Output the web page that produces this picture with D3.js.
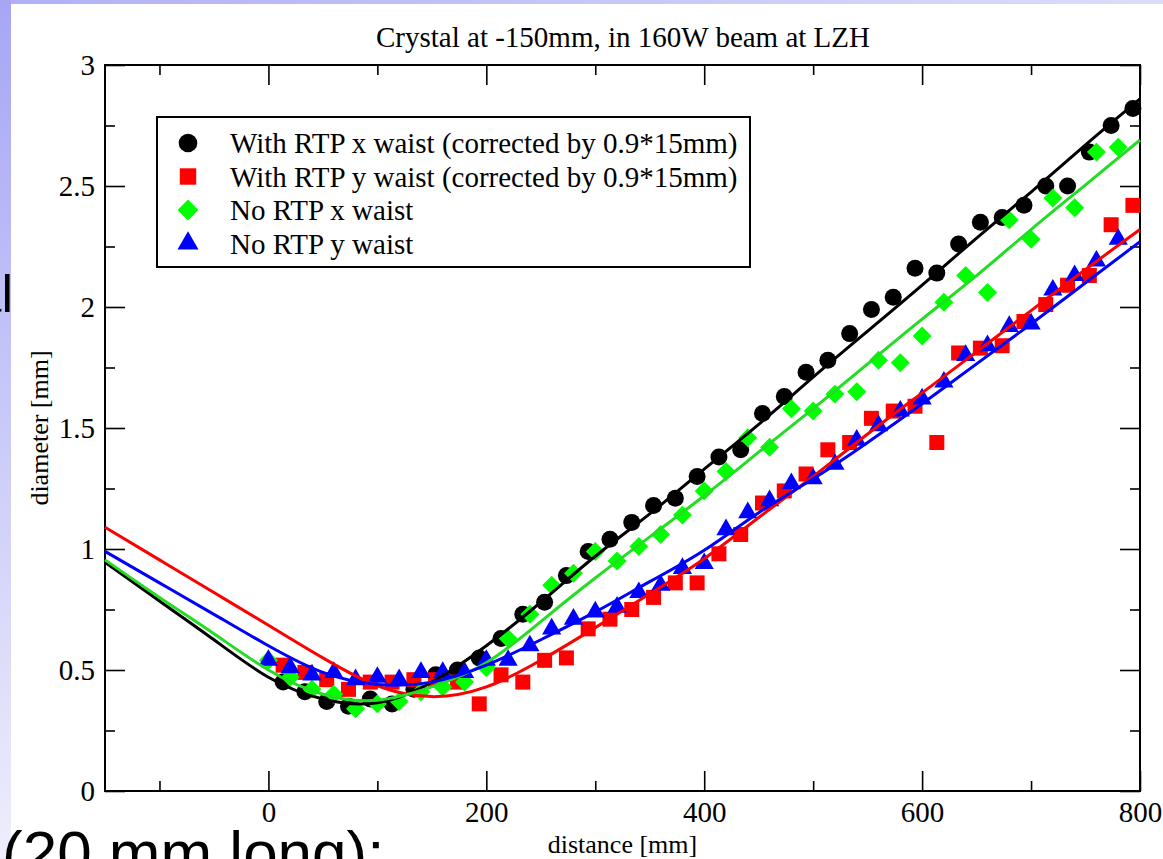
<!DOCTYPE html>
<html>
<head>
<meta charset="utf-8">
<script src="https://cdn.jsdelivr.net/npm/d3@7"></script>
<style>
  body { margin: 0; background: #fff; }
  svg { display: block; }
</style>
</head>
<body>
<svg id="chart"></svg>
<script>
// Data
const distRTP = [13.5, 33.5, 53.5, 73.5, 93.5, 113.5, 133.5, 153.5, 173.5, 193.5,
    213.5, 233.5, 253.5, 273.5, 293.5, 313.5, 333.5, 353.5, 373.5, 393.5,
    413.5, 433.5, 453.5, 473.5, 493.5, 513.5, 533.5, 553.5, 573.5, 593.5,
    613.5, 633.5, 653.5, 673.5, 693.5, 713.5, 733.5, 753.5, 773.5, 793.5];
const distNoRTP = [0, 20, 40, 60, 80, 100, 120, 140, 160, 180,
    200, 220, 240, 260, 280, 300, 320, 340, 360, 380,
    400, 420, 440, 460, 480, 500, 520, 540, 560, 580,
    600, 620, 640, 660, 680, 700, 720, 740, 760, 780];

const rtpX = [0.45, 0.41, 0.37, 0.35, 0.38, 0.36, 0.42, 0.48, 0.50, 0.55,
    0.63, 0.73, 0.78, 0.89, 0.99, 1.04, 1.11, 1.18, 1.21, 1.30,
    1.38, 1.41, 1.56, 1.63, 1.73, 1.78, 1.89, 1.99, 2.04, 2.16,
    2.14, 2.26, 2.35, 2.37, 2.42, 2.50, 2.50, 2.64, 2.75, 2.82];
const rtpY = [0.52, 0.49, 0.46, 0.42, 0.45, 0.45, 0.46, 0.46, 0.45, 0.36,
    0.48, 0.45, 0.54, 0.55, 0.67, 0.71, 0.75, 0.80, 0.86, 0.86,
    0.98, 1.06, 1.19, 1.24, 1.31, 1.41, 1.44, 1.54, 1.57, 1.59,
    1.44, 1.81, 1.83, 1.84, 1.94, 2.01, 2.09, 2.13, 2.34, 2.42];
const noRtpX = [0.54, 0.47, 0.42, 0.40, 0.34, 0.36, 0.37, 0.41, 0.43, 0.45,
    0.51, 0.63, 0.73, 0.85, 0.90, 0.99, 0.95, 1.01, 1.06, 1.14,
    1.24, 1.32, 1.46, 1.42, 1.58, 1.57, 1.64, 1.65, 1.78, 1.77,
    1.88, 2.02, 2.13, 2.06, 2.36, 2.28, 2.45, 2.41, 2.64, 2.66];
const noRtpY = [0.54, 0.51, 0.48, 0.49, 0.46, 0.47, 0.46, 0.49, 0.49, 0.49,
    0.54, 0.54, 0.60, 0.67, 0.71, 0.74, 0.76, 0.82, 0.85, 0.92,
    0.94, 1.08, 1.15, 1.20, 1.27, 1.29, 1.35, 1.45, 1.51, 1.57,
    1.62, 1.69, 1.80, 1.84, 1.92, 1.93, 2.07, 2.13, 2.19, 2.28];

// fitted curves, read at every 50 mm
const fitDist = [-150, -100, -50, 0, 50, 100, 150, 200, 250, 300,
    350, 400, 450, 500, 550, 600, 650, 700, 750, 800];
const fitRtpX = [0.945, 0.785, 0.625, 0.47, 0.38, 0.365, 0.45, 0.60, 0.78, 0.97,
    1.145, 1.33, 1.515, 1.71, 1.90, 2.09, 2.285, 2.475, 2.67, 2.86];
const fitRtpY = [1.09, 0.955, 0.82, 0.685, 0.55, 0.435, 0.39, 0.43, 0.54, 0.675,
    0.815, 0.96, 1.13, 1.30, 1.475, 1.645, 1.815, 1.985, 2.155, 2.32];
const fitNoRtpX = [0.955, 0.80, 0.65, 0.50, 0.40, 0.375, 0.43, 0.53, 0.70, 0.88,
    1.05, 1.22, 1.40, 1.58, 1.765, 1.95, 2.13, 2.32, 2.505, 2.69];
const fitNoRtpY = [0.99, 0.86, 0.73, 0.60, 0.49, 0.44, 0.45, 0.52, 0.625, 0.74,
    0.865, 0.995, 1.15, 1.29, 1.44, 1.60, 1.765, 1.93, 2.10, 2.27];

const xMajor = [0, 200, 400, 600, 800];
const xMinor = [-100, 100, 300, 500, 700];
const yMajor = [0, 0.5, 1, 1.5, 2, 2.5, 3];
const yMinor = [0.25, 0.75, 1.25, 1.75, 2.25, 2.75];

const seriesNames = [
    "With RTP x waist (corrected by 0.9*15mm)",
    "With RTP y waist (corrected by 0.9*15mm)",
    "No RTP x waist",
    "No RTP y waist"
];

const width = 1163;
const height = 859;
const frame = { left: 105, top: 65, right: 1140, bottom: 791 };
const serif = "'Liberation Serif', 'Times New Roman', serif";

const svg = d3.select("#chart")
    .attr("width", width)
    .attr("height", height);

// slide background left over around the picture
const defs = svg.append("defs");
const gv = defs.append("linearGradient").attr("id", "side").attr("x1", 0).attr("y1", 0).attr("x2", 0).attr("y2", 1);
gv.append("stop").attr("offset", "0%").attr("stop-color", "#a6a6f5");
gv.append("stop").attr("offset", "100%").attr("stop-color", "#eeeefc");
const gh = defs.append("linearGradient").attr("id", "topband").attr("x1", 0).attr("y1", 0).attr("x2", 1).attr("y2", 0);
gh.append("stop").attr("offset", "0%").attr("stop-color", "#b0b0f6");
gh.append("stop").attr("offset", "100%").attr("stop-color", "#dcdcfa");

svg.append("rect").attr("width", width).attr("height", height).attr("fill", "url(#side)");
svg.append("rect").attr("x", 11).attr("width", width - 11).attr("height", 4).attr("fill", "url(#topband)");
svg.append("rect").attr("x", 11).attr("y", 4).attr("width", width - 11).attr("height", height - 4).attr("fill", "#fff");

const x = d3.scaleLinear().domain([-150, 800]).range([frame.left, frame.right]);
const y = d3.scaleLinear().domain([0, 3]).range([frame.bottom, frame.top]);

// Axes (ticks pointing inward, on all four sides)
function styleAxis(g) {
    g.select(".domain").remove();
    g.selectAll(".tick line").attr("stroke", "#000").attr("stroke-width", 1.6);
    g.selectAll(".tick text").attr("fill", "#000").style("font-family", serif).style("font-size", "29px");
}

svg.append("g").attr("transform", `translate(0,${frame.bottom})`)
    .call(d3.axisBottom(x).tickValues(xMajor).tickSize(-20).tickPadding(10).tickFormat(d3.format("d")))
    .call(styleAxis);
svg.append("g").attr("transform", `translate(0,${frame.bottom})`)
    .call(d3.axisBottom(x).tickValues(xMinor).tickSize(-10).tickFormat(""))
    .call(styleAxis);
svg.append("g").attr("transform", `translate(0,${frame.top})`)
    .call(d3.axisTop(x).tickValues(xMajor).tickSize(-20).tickFormat(""))
    .call(styleAxis);
svg.append("g").attr("transform", `translate(0,${frame.top})`)
    .call(d3.axisTop(x).tickValues(xMinor).tickSize(-10).tickFormat(""))
    .call(styleAxis);

svg.append("g").attr("transform", `translate(${frame.left},0)`)
    .call(d3.axisLeft(y).tickValues(yMajor).tickSize(-20).tickPadding(10).tickFormat(d => d))
    .call(styleAxis);
svg.append("g").attr("transform", `translate(${frame.left},0)`)
    .call(d3.axisLeft(y).tickValues(yMinor).tickSize(-10).tickFormat(""))
    .call(styleAxis);
svg.append("g").attr("transform", `translate(${frame.right},0)`)
    .call(d3.axisRight(y).tickValues(yMajor).tickSize(-20).tickFormat(""))
    .call(styleAxis);
svg.append("g").attr("transform", `translate(${frame.right},0)`)
    .call(d3.axisRight(y).tickValues(yMinor).tickSize(-10).tickFormat(""))
    .call(styleAxis);

svg.append("rect")
    .attr("x", frame.left).attr("y", frame.top)
    .attr("width", frame.right - frame.left).attr("height", frame.bottom - frame.top)
    .attr("fill", "none").attr("stroke", "#000").attr("stroke-width", 2);

// Titles
svg.append("text")
    .attr("x", 623).attr("y", 47)
    .attr("text-anchor", "middle")
    .style("font-family", serif).style("font-size", "29px")
    .text("Crystal at -150mm, in 160W beam at LZH");

svg.append("text")
    .attr("x", (frame.left + frame.right) / 2).attr("y", 853)
    .attr("text-anchor", "middle")
    .style("font-family", serif).style("font-size", "26px")
    .text("distance [mm]");

svg.append("text")
    .attr("transform", `translate(48,${(frame.top + frame.bottom) / 2}) rotate(-90)`)
    .attr("text-anchor", "middle")
    .style("font-family", serif).style("font-size", "26px")
    .text("diameter [mm]");

// Series
const series = [
    { name: seriesNames[0], dist: distRTP, val: rtpX, fit: fitRtpX, color: "#000000", line: "#000000", shape: d3.symbolCircle, size: 227, rot: 0 },
    { name: seriesNames[1], dist: distRTP, val: rtpY, fit: fitRtpY, color: "#ff0000", line: "#ff0000", shape: d3.symbolSquare, size: 225, rot: 0 },
    { name: seriesNames[2], dist: distNoRTP, val: noRtpX, fit: fitNoRtpX, color: "#00ff00", line: "#22dd22", shape: d3.symbolSquare, size: 180, rot: 45 },
    { name: seriesNames[3], dist: distNoRTP, val: noRtpY, fit: fitNoRtpY, color: "#0000ff", line: "#0000ff", shape: d3.symbolTriangle, size: 160, rot: 0 }
];

series.forEach(s => {
    const sym = d3.symbol().type(s.shape).size(s.size);
    svg.append("g")
        .selectAll("path")
        .data(s.dist.map((d, i) => [d, s.val[i]]))
        .join("path")
        .attr("d", sym)
        .attr("transform", d => `translate(${x(d[0])},${y(d[1])}) rotate(${s.rot})`)
        .attr("fill", s.color);
});

const line = d3.line()
    .x(d => x(d[0]))
    .y(d => y(d[1]))
    .curve(d3.curveNatural);

series.forEach(s => {
    svg.append("path")
        .datum(fitDist.map((d, i) => [d, s.fit[i]]))
        .attr("d", line)
        .attr("fill", "none")
        .attr("stroke", s.line)
        .attr("stroke-width", 3);
});

// Legend
const legend = svg.append("g");
legend.append("rect")
    .attr("x", 157).attr("y", 117)
    .attr("width", 593).attr("height", 150)
    .attr("fill", "#fff").attr("stroke", "#000").attr("stroke-width", 2);

series.forEach((s, i) => {
    const cy = 143 + i * 33.5;
    legend.append("path")
        .attr("d", d3.symbol().type(s.shape).size(s.size * 1.2))
        .attr("transform", `translate(188,${cy}) rotate(${s.rot})`)
        .attr("fill", s.color);
    legend.append("text")
        .attr("x", 230).attr("y", cy + 10)
        .style("font-family", serif).style("font-size", "29px")
        .text(s.name);
});

// text of the slide behind the picture
svg.append("text")
    .attr("x", 13).attr("y", 312)
    .attr("text-anchor", "end")
    .style("font-family", "'Liberation Sans', Arial, sans-serif").style("font-size", "52px")
    .text("al");

svg.append("text")
    .attr("x", 2).attr("y", 874)
    .style("font-family", "'Liberation Sans', Arial, sans-serif").style("font-size", "62px")
    .text("(20 mm long):");
</script>
</body>
</html>
